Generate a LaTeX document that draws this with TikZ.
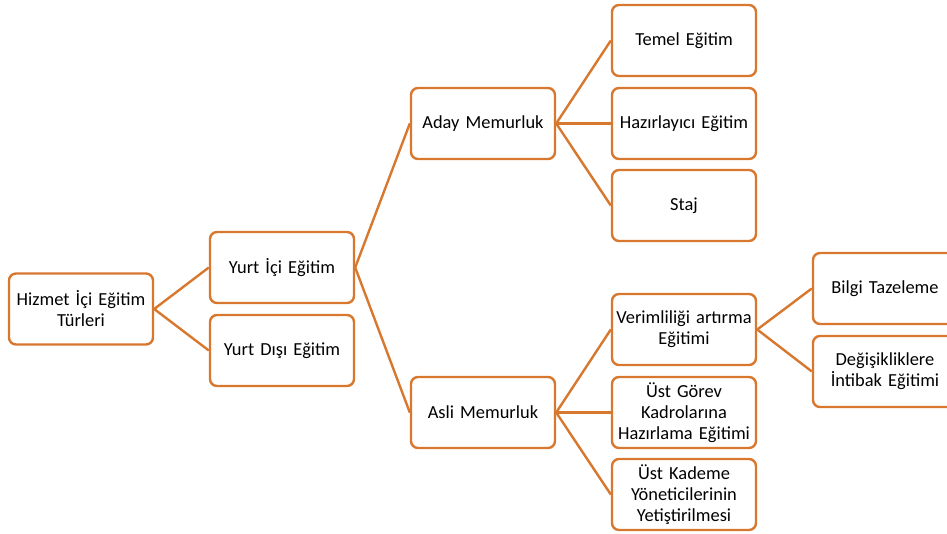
\documentclass[tikz,border=0pt]{standalone}
\usepackage{fontspec}
\setmainfont{Carlito}
\definecolor{boxorange}{HTML}{D8782F}
\begin{document}
\begin{tikzpicture}[x=1pt,y=-1pt,
  box/.style={draw=boxorange, line width=2.4pt, rounded corners=7pt, fill=white,
    minimum width=144pt, minimum height=71pt, text width=140pt, align=center,
    inner sep=1pt, font=\fontsize{18.4}{21}\selectfont, text=black},
  link/.style={draw=boxorange, line width=2.4pt}]
\useasboundingbox (0,0) rectangle (947,534);
\clip (0,0) rectangle (947,534);
\node[box] (root) at (81,309) {Hizmet İçi Eğitim\\Türleri};
\node[box] (ici) at (282,267.5) {Yurt İçi Eğitim};
\node[box] (disi) at (282,350.5) {Yurt Dışı Eğitim};
\node[box] (aday) at (483,123.5) {Aday Memurluk};
\node[box] (asli) at (483,412.5) {Asli Memurluk};
\node[box] (temel) at (684,40.5) {Temel Eğitim};
\node[box] (hazir) at (684,123.5) {Hazırlayıcı Eğitim};
\node[box] (staj) at (684,205.5) {Staj};
\node[box] (verim) at (684,329.5) {Verimliliği artırma\\Eğitimi};
\node[box] (gorev) at (684,412.5) {Üst Görev\\Kadrolarına\\Hazırlama Eğitimi};
\node[box] (kademe) at (684,494.5) {Üst Kademe\\Yöneticilerinin\\Yetiştirilmesi};
\node[box] (bilgi) at (885,288.5) {Bilgi Tazeleme};
\node[box] (degis) at (885,371.5) {Değişikliklere\\İntibak Eğitimi};
\foreach \a/\b in {root/ici,root/disi,ici/aday,ici/asli,aday/temel,aday/hazir,aday/staj,asli/verim,asli/gorev,asli/kademe,verim/bilgi,verim/degis}
  \draw[link] (\a.east) -- (\b.west);
\end{tikzpicture}
\end{document}
